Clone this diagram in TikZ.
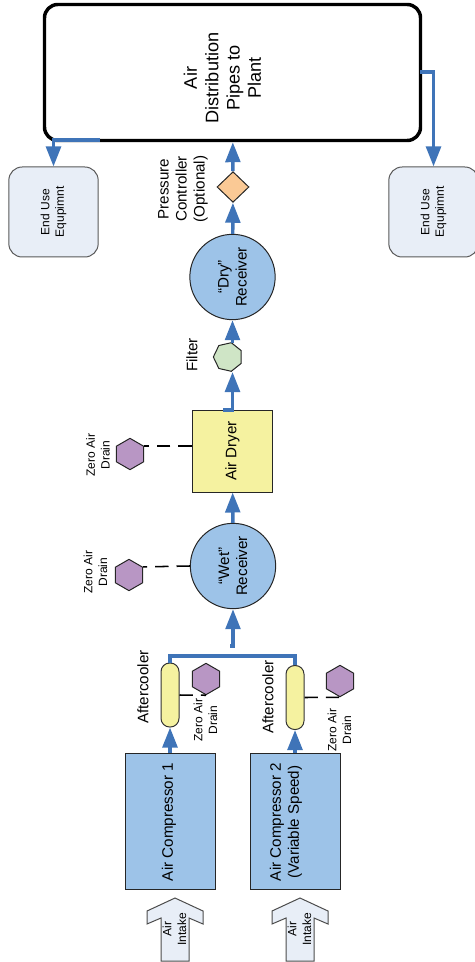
\documentclass[tikz,border=0pt]{standalone}
\usepackage{fontspec}
\setmainfont{Liberation Sans}
\usepackage{tikz}
\usetikzlibrary{arrows.meta,shapes.geometric}

\definecolor{pipeblue}{HTML}{3F74B8}
\definecolor{tankblue}{HTML}{9DC3E8}
\definecolor{palepaper}{HTML}{E8EEF7}
\definecolor{dryeryellow}{HTML}{F5F2A0}
\definecolor{drainpurple}{HTML}{B896C4}
\definecolor{valveorange}{HTML}{FAC995}
\definecolor{filtergreen}{HTML}{CFE5C6}

\tikzset{
    sidetext/.style={rotate=90,align=center,inner sep=0pt,font=\fontsize{11.4}{13.5}\selectfont},
    smalltext/.style={rotate=90,align=center,inner sep=0pt,font=\fontsize{9}{11}\selectfont},
    tank/.style={sidetext,circle,draw=black!85,line width=0.75pt,fill=tankblue,minimum size=64pt},
    compressor/.style={rotate=90,draw=black!85,line width=0.75pt,fill=tankblue,minimum width=102pt,minimum height=67.5pt},
    cooler/.style={rotate=90,draw=black!80,line width=0.75pt,fill=dryeryellow,rounded corners=6.5pt,minimum width=48pt,minimum height=13.5pt,inner sep=0pt},
    enduse/.style={smalltext,draw=black!65,line width=0.75pt,fill=palepaper,rounded corners=10pt,minimum width=67.5pt,minimum height=67pt},
    drain/.style={regular polygon,regular polygon sides=6,shape border rotate=30,draw=black!85,line width=0.75pt,fill=drainpurple,minimum size=23.5pt,inner sep=0pt},
    pipe/.style={draw=pipeblue,line width=2.6pt,-{Triangle[length=15pt,width=11pt]}},
    header/.style={draw=pipeblue,line width=2.4pt},
    drainline/.style={black,line width=1.15pt,dash pattern=on 10pt off 6pt},
    intake/.style={draw=black!70,line width=0.75pt,fill=palepaper}
}

\begin{document}
\begin{tikzpicture}[x=0.75pt,y=-0.75pt]
\useasboundingbox (0,0) rectangle (474,962);

% main line, top to bottom
\node[rotate=90,draw=black,line width=2.6pt,rounded corners=10pt,minimum width=102pt,minimum height=282pt] (pipes) at (232.5,72.5) {};
\node[sidetext,font=\fontsize{13.6}{16}\selectfont] (pipeslabel) at (222.5,78) {Air\\Distribution\\Pipes to\\Plant};
\node[diamond,draw=black!85,line width=0.75pt,fill=valveorange,minimum width=24pt,minimum height=23pt,inner sep=0pt] (valve) at (233,187) {};
\node[tank] (dry) at (232.5,277) {``Dry''\\Receiver};
\node[rotate=90,regular polygon,regular polygon sides=7,draw=black!85,line width=0.75pt,fill=filtergreen,minimum size=22pt,inner sep=0pt] (filter) at (228,357) {};
\node[sidetext,draw=black!85,line width=0.75pt,fill=dryeryellow,minimum width=61.5pt,minimum height=60.5pt] (dryer) at (232.5,451) {Air Dryer};
\node[tank] (wet) at (233,566) {``Wet''\\Receiver};

\node[sidetext] (valvelabel) at (183,189) {Pressure\\Controller\\(Optional)};
\node[sidetext] (filterlabel) at (192,355) {Filter};

% compressors and what hangs off them
\foreach \i/\x/\coolery/\tx/\text in {1/170/695/169/{Air Compressor 1}, 2/295/697.5/286/{Air Compressor 2\\(Variable Speed)}} {
    \node[compressor] (comp\i) at (\x,821) {};
    \node[sidetext] (comp\i label) at (\tx,822) {\text};
    \node[cooler] (cooler\i) at (\x,\coolery) {};
}
\node[sidetext] (coolerlabelA) at (143,687) {Aftercooler};
\node[sidetext] (coolerlabelB) at (268,697) {Aftercooler};

% drains
\foreach \name/\x/\y/\lx/\ly in {drainW/129/575/95.5/572, drainD/130/454/98/455, drainA/206/679/205.5/720, drainB/340/681/339.5/730} {
    \node[drain] (\name) at (\x,\y) {};
    \node[smalltext] (\name label) at (\lx,\ly) {Zero Air\\Drain};
}

% end use
\node[enduse] (use1) at (53.5,212) {End Use\\Equpimnt};
\node[enduse] (use2) at (433.5,212) {End Use\\Equpimnt};

% intake arrows
\foreach \i/\x in {1/175, 2/300} {
    \draw[intake,shift={(\x,0)}] (0,898) -- (28,911) -- (28,924) -- (14,918) -- (14,961) -- (-14,961) -- (-14,918) -- (-28,924) -- (-28,911) -- cycle;
    \node[smalltext] (intake\i) at (\x-0.5,929) {Air\\Intake};
}

% air flow
\coordinate (tapL) at (100,140);
\coordinate (tapR) at (420,72);
\coordinate (filterin) at (232.5,372);
\coordinate (filterout) at (232.5,343);
\coordinate (dryerout) at (223,410);
\coordinate (headerup) at (230,646);
\coordinate (headermid) at (233,656);

\draw[pipe] (comp1) -- (cooler1);
\draw[pipe] (comp2) -- (cooler2);
\draw[header] (cooler1.east) |- (headermid) -| (cooler2.east);
\draw[pipe] (headerup) -| (wet);
\draw[pipe] (wet) -- (dryer);
\draw[pipe] (dryerout) -| (filterin);
\draw[pipe] (filterout) -- (dry);
\draw[pipe] (dry) -- (valve);
\draw[pipe] (valve) -- (pipes);
\draw[pipe] (tapL) -| (use1);
\draw[pipe] (tapR) -| (use2);

% drain lines
\draw[drainline] (wet.north) -- (drainW.corner 6);
\draw[drainline] (drainD.corner 6 -| dryer.north) -- (drainD.corner 6);
\draw[drainline] (cooler1.south) -- (drainA.corner 4);
\draw[drainline] (cooler2.south) -- (drainB.corner 4);

\end{tikzpicture}
\end{document}
